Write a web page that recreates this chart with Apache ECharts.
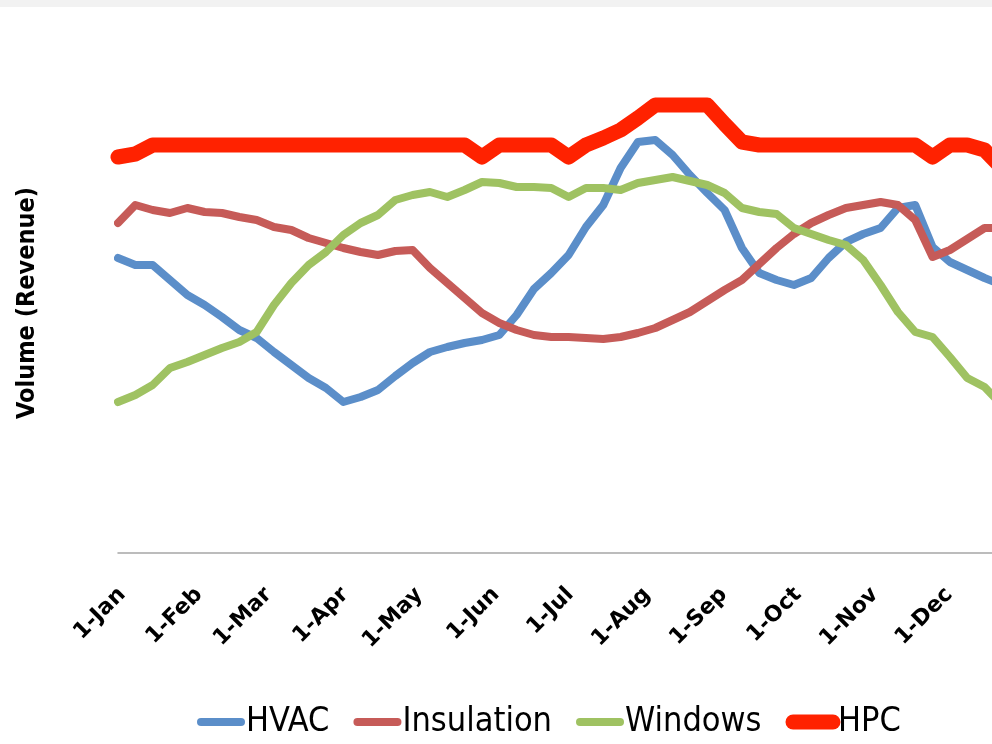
<!DOCTYPE html>
<html>
<head>
<meta charset="utf-8">
<script src="https://cdn.jsdelivr.net/npm/echarts@6/dist/echarts.min.js"></script>
<style>
  html, body { margin: 0; padding: 0; background: #ffffff; }
  #topband { position: absolute; left: 0; top: 0; width: 992px; height: 7px; background: #f2f2f2; z-index: 2; }
  #chart { position: absolute; left: 0; top: 0; width: 992px; height: 744px; }
</style>
</head>
<body>
<div id="chart"></div>
<div id="topband"></div>
<script>
// Weekly dates (categories)
const weeks = ['2013-01-01','2013-01-08','2013-01-15','2013-01-22','2013-01-29',
  '2013-02-05','2013-02-12','2013-02-19','2013-02-26',
  '2013-03-05','2013-03-12','2013-03-19','2013-03-26',
  '2013-04-02','2013-04-09','2013-04-16','2013-04-23','2013-04-30',
  '2013-05-07','2013-05-14','2013-05-21','2013-05-28',
  '2013-06-04','2013-06-11','2013-06-18','2013-06-25',
  '2013-07-02','2013-07-09','2013-07-16','2013-07-23','2013-07-30',
  '2013-08-06','2013-08-13','2013-08-20','2013-08-27',
  '2013-09-03','2013-09-10','2013-09-17','2013-09-24',
  '2013-10-01','2013-10-08','2013-10-15','2013-10-22','2013-10-29',
  '2013-11-05','2013-11-12','2013-11-19','2013-11-26',
  '2013-12-03','2013-12-10','2013-12-17','2013-12-24'];

const hvac = [59, 57.6, 57.6, 54.6, 51.6, 49.6, 47.2, 44.6, 43, 40.2, 37.6, 35, 33, 30.2, 31.2, 32.6,
  35.4, 38, 40.2, 41.2, 42, 42.6, 43.6, 47.6, 52.8, 56, 59.6, 65.2, 69.6, 77, 82.2, 82.6, 79.6, 75.6,
  72, 68.6, 61, 56, 54.6, 53.6, 55, 59, 62.2, 63.8, 65, 69, 69.6, 61.2, 58.2, 56.6, 55, 53.6];

const insulation = [66, 69.6, 68.6, 68, 69, 68.2, 68, 67.2, 66.6, 65.2, 64.6, 63, 62, 61, 60.2, 59.6,
  60.4, 60.6, 57, 54, 51, 48, 46, 44.6, 43.6, 43.2, 43.2, 43, 42.8, 43.2, 44, 45, 46.6, 48.2, 50.4,
  52.6, 54.6, 57.8, 61, 63.8, 66, 67.6, 69, 69.6, 70.2, 69.6, 66.6, 59.2, 60.6, 62.8, 65, 65];

const windows = [30.2, 31.6, 33.6, 37, 38.2, 39.6, 41, 42.2, 44.2, 49.6, 54, 57.6, 60.2, 63.6, 66, 67.6,
  70.6, 71.6, 72.2, 71.2, 72.6, 74.2, 74, 73.2, 73.2, 73, 71.2, 73, 73, 72.6, 74, 74.6, 75.2, 74.4,
  73.6, 72, 69, 68.2, 67.8, 65, 63.8, 62.6, 61.6, 58.6, 53.6, 48.2, 44.2, 43.2, 39.2, 35, 33.2, 29.6];

const hpc = [79.2, 79.8, 81.6, 81.6, 81.6, 81.6, 81.6, 81.6, 81.6, 81.6, 81.6, 81.6, 81.6, 81.6, 81.6,
  81.6, 81.6, 81.6, 81.6, 81.6, 81.6, 79.2, 81.6, 81.6, 81.6, 81.6, 79.2, 81.6, 83, 84.6, 87, 89.6,
  89.6, 89.6, 89.6, 85.8, 82.2, 81.6, 81.6, 81.6, 81.6, 81.6, 81.6, 81.6, 81.6, 81.6, 81.6, 79.2,
  81.6, 81.6, 80.6, 77];

const seriesNames = ['HVAC', 'Insulation', 'Windows', 'HPC'];
const yAxisTitle = 'Volume (Revenue)';
const xStart = '2013-01-01';
const xEnd = '2013-12-20';

const pair = arr => weeks.map((d, i) => [d, arr[i]]);
const narrow = "'DejaVu Sans Condensed', 'Liberation Sans Narrow', sans-serif";

const chart = echarts.init(document.getElementById('chart'), null, { renderer: 'canvas' });

function lineSeries(name, data, color, width) {
  return {
    name: name,
    type: 'line',
    data: pair(data),
    showSymbol: false,
    symbol: 'none',
    smooth: false,
    clip: true,
    lineStyle: { color: color, width: width, cap: 'round', join: 'round' },
    itemStyle: { color: color },
    emphasis: { disabled: true },
    animation: false
  };
}

chart.setOption({
  animation: false,
  backgroundColor: '#ffffff',
  grid: { left: 118, top: 53, right: 0, height: 500, containLabel: false },
  legend: {
    left: 192,
    top: 700,
    itemWidth: 40,
    itemHeight: 14,
    itemGap: 24,
    itemStyle: { opacity: 0 },
    lineStyle: { width: 'inherit', cap: 'round' },
    textStyle: { fontFamily: narrow, fontSize: 34, color: '#000' },
    data: seriesNames
  },
  xAxis: {
    type: 'time',
    min: xStart,
    max: xEnd,
    splitNumber: 12,
    minInterval: 28 * 86400000,
    maxInterval: 31 * 86400000,
    axisLine: { show: true, lineStyle: { color: '#a6a6a6', width: 1.5 } },
    axisTick: { show: false },
    splitLine: { show: false },
    axisLabel: {
      rotate: 45,
      margin: 34,
      padding: [12, 0, 0, 0],
      formatter: '{d}-{MMM}',
      fontFamily: "'DejaVu Sans', sans-serif",
      fontWeight: 'bold',
      fontSize: 22,
      color: '#000',
      showMaxLabel: false
    }
  },
  yAxis: {
    type: 'value',
    min: 0,
    max: 100,
    axisLine: { show: false },
    axisTick: { show: false },
    axisLabel: { show: false },
    splitLine: { show: false },
    name: yAxisTitle,
    nameLocation: 'middle',
    nameRotate: 90,
    nameGap: 78,
    nameTextStyle: { fontFamily: narrow, fontWeight: 'bold', fontSize: 25, color: '#000' }
  },
  series: [
    lineSeries(seriesNames[0], hvac, '#5b8ec9', 8),
    lineSeries(seriesNames[1], insulation, '#c65b58', 8),
    lineSeries(seriesNames[2], windows, '#9fc262', 8),
    lineSeries(seriesNames[3], hpc, '#ff2200', 15)
  ]
});
</script>
</body>
</html>
